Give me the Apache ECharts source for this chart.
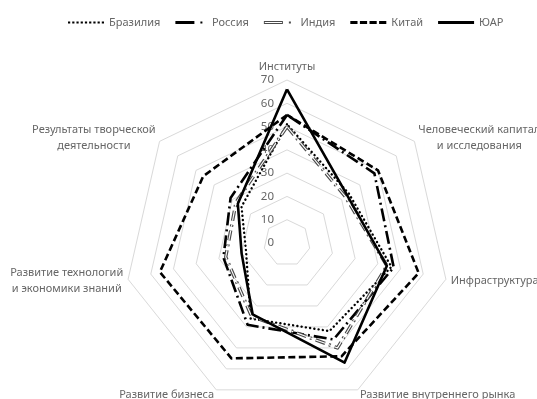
<!DOCTYPE html>
<html>
<head>
<meta charset="utf-8">
<script src="https://cdn.jsdelivr.net/npm/echarts@6/dist/echarts.min.js"></script>
<style>
  html, body { margin: 0; padding: 0; background: #ffffff; }
  #chart { width: 537px; height: 399px; }
</style>
</head>
<body>
<div id="chart"></div>
<script>
// Seven pillars of the innovation index, listed clockwise from the top.
const pillars = [
  'Институты',
  'Человеческий капитал\nи исследования',
  'Инфраструктура',
  'Развитие внутреннего рынка',
  'Развитие бизнеса',
  'Развитие технологий\nи экономики знаний',
  'Результаты творческой\nдеятельности'
];

const countries = ['Бразилия', 'Россия', 'Индия', 'Китай', 'ЮАР'];

// Pillar scores per country, same order as `pillars`.
const brazil      = [51, 34, 46, 42, 36, 18, 25];
const russia      = [55, 48, 47, 46, 39, 28, 31];
const india       = [50, 32, 44, 50, 35, 27, 28];
const china       = [55, 50, 58, 54, 55, 56, 46];
const southAfrica = [66, 33, 44, 57, 34, 20, 27];

// Value scale: 0 … 70 in steps of 10.
const scaleMin = 0;
const scaleMax = 70;
const scaleSplits = 7;

const FONT = '"Noto Sans", "Liberation Sans", sans-serif';
const TEXT = '#666666';

// ECharts lays radar indicators out counter-clockwise; reorder so they run clockwise.
const order = [0, 6, 5, 4, 3, 2, 1];
const arrange = vals => order.map(i => vals[i]);

// Legend samples drawn as small paths (px units, keepAspect).
function dashPath(pattern, total, h) {
  let x = 0, k = 0, d = '';
  while (x < total - 0.01) {
    const len = Math.min(pattern[k % pattern.length], total - x);
    if (k % 2 === 0) d += 'M' + x + ' 0h' + len + 'v' + h + 'h' + (-len) + 'Z';
    x += len; k++;
  }
  return 'path://' + d;
}
const hollowBar = 'path://M0 0H19V3H0Z M0.9 0.9V2.1H18.1V0.9Z M25 0.5h2v2h-2Z';
const legendIcons = [
  dashPath([2.2, 2], 36, 2.2),
  'path://M0 0H19V3H0Z M25 0.5h2v2h-2Z',
  hollowBar,
  dashPath([7.2, 2.4], 36, 3),
  dashPath([36], 36, 3)
];

const lineStyles = [
  { color: '#000', width: 2.4, type: [0.1, 4.2], cap: 'round' },
  { color: '#000', width: 2.6, type: [13, 4, 2, 4] },
  { color: '#4a4a4a', width: 3.4, type: [10, 4, 2, 4] },
  { color: '#000', width: 2.6, type: [7, 3.5] },
  { color: '#000', width: 2.6, type: 'solid' }
];
const values = [brazil, russia, india, china, southAfrica];

const seriesData = [];
countries.forEach((name, i) => {
  seriesData.push({
    name: name,
    value: arrange(values[i]),
    symbol: 'none',
    itemStyle: { color: i === 2 ? '#4a4a4a' : '#000' },
    lineStyle: lineStyles[i]
  });
  if (i === 2) {
    // white core gives the double-line look
    seriesData.push({
      name: name,
      value: arrange(values[i]),
      symbol: 'none',
      itemStyle: { color: '#4a4a4a' },
      lineStyle: { color: '#ffffff', width: 1.1, type: [10, 4, 2, 4] }
    });
  }
});

const indicators = arrange(pillars).map((name, i) => ({
  name: name,
  min: scaleMin,
  max: scaleMax,
  axisLabel: { show: i === 0 }
}));

const chart = echarts.init(document.getElementById('chart'), null, { renderer: 'canvas' });
chart.setOption({
  animation: false,
  backgroundColor: '#ffffff',
  textStyle: { fontFamily: FONT },
  legend: {
    data: countries.map((n, i) => ({ name: n, icon: legendIcons[i] })),
    left: 63,
    top: 12,
    itemWidth: 36,
    itemHeight: 3,
    itemGap: 15,
    symbolKeepAspect: true,
    selectedMode: false,
    textStyle: { color: TEXT, fontSize: 11, fontFamily: FONT }
  },
  radar: {
    center: [287, 243],
    radius: 163,
    startAngle: 90,
    shape: 'polygon',
    splitNumber: scaleSplits,
    indicator: indicators,
    nameGap: 5,
    axisName: {
      color: TEXT,
      fontSize: 11,
      fontFamily: FONT,
      formatter: name => name.split('\n').map(l => '{c|' + l + '}').join('\n'),
      rich: { c: { align: 'center', color: TEXT, fontSize: 11, fontFamily: FONT, lineHeight: 16 } }
    },
    axisLine: { show: false },
    axisTick: { show: false },
    axisLabel: {
      show: false, color: TEXT, fontSize: 11.5, fontFamily: FONT,
      align: 'right', verticalAlign: 'middle', padding: [0, 5, 0, 0]
    },
    splitLine: { lineStyle: { color: '#d9d9d9', width: 1 } },
    splitArea: { show: false }
  },
  series: [{
    type: 'radar',
    symbol: 'none',
    data: seriesData
  }]
});
</script>
</body>
</html>
